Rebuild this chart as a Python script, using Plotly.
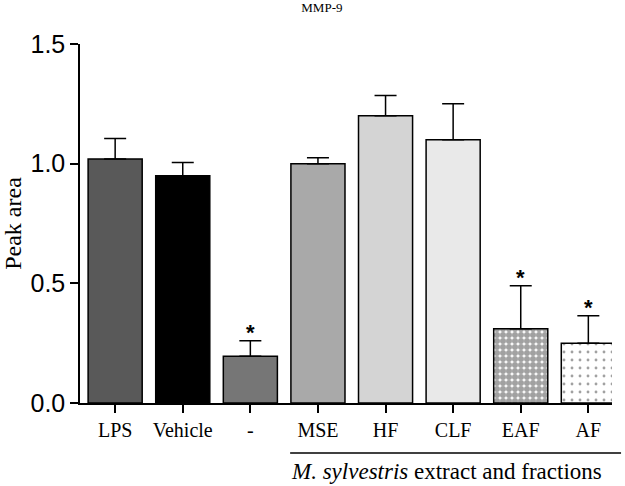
import plotly.graph_objects as go

categories = ["LPS", "Vehicle", "-", "MSE", "HF", "CLF", "EAF", "AF"]
values = [1.02, 0.95, 0.195, 1.0, 1.2, 1.1, 0.31, 0.25]
errors = [0.085, 0.055, 0.065, 0.025, 0.085, 0.15, 0.18, 0.115]
significant = [False, False, True, False, False, False, True, True]

colors = ["#595959", "#000000", "#767676", "#a9a9a9", "#d4d4d4", "#e9e9e9", "#ffffff", "#ffffff"]
pattern_shapes = ["", "", "", "", "", "", ".", "."]
pattern_sizes = [8, 8, 8, 8, 8, 8, 6, 8]
pattern_solid = [0.3, 0.3, 0.3, 0.3, 0.3, 0.3, 0.78, 0.1]

x = list(range(len(categories)))

fig = go.Figure()
fig.add_trace(go.Bar(
    x=x, y=values, width=0.8,
    marker=dict(color=colors, line=dict(color="black", width=1.5),
                pattern=dict(shape=pattern_shapes, size=pattern_sizes, solidity=pattern_solid,
                             fgcolor="black", fillmode="overlay")),
    error_y=dict(type="data", symmetric=False, array=errors, arrayminus=[0]*len(errors),
                 color="black", thickness=1.5, width=11),
    showlegend=False,
))

for i, s in enumerate(significant):
    if s:
        fig.add_annotation(x=i, y=values[i] + errors[i], text="<b>*</b>", showarrow=False,
                           yanchor="bottom", yshift=-6,
                           font=dict(family="Liberation Sans, Arial", size=22, color="black"))

fig.add_shape(type="line", xref="paper", yref="paper", x0=0.395, x1=1.017, y0=-0.139, y1=-0.139,
              line=dict(color="black", width=1.5))
fig.add_annotation(xref="paper", yref="paper", x=0.688, y=-0.192, xanchor="center", yanchor="middle",
                   showarrow=False,
                   text="<i>M. sylvestris</i> extract and fractions",
                   font=dict(family="Liberation Serif, Times New Roman", size=23, color="black"))

fig.update_layout(
    width=625, height=486,
    margin=dict(l=80, r=13, t=44, b=83),
    plot_bgcolor="white", paper_bgcolor="white",
    title=dict(text="MMP-9", x=0.515, xanchor="center", y=0.995, yanchor="top",
               font=dict(family="Liberation Serif, Times New Roman", size=13, color="black")),
    xaxis=dict(range=[-0.52, 7.35], tickmode="array", tickvals=x, ticktext=categories,
               showline=True, linecolor="black", linewidth=1.5, ticks="outside", ticklen=8,
               tickwidth=1.5, tickcolor="black", showgrid=False, zeroline=False, automargin=False,
               tickfont=dict(family="Liberation Serif, Times New Roman", size=20, color="black")),
    yaxis=dict(range=[0, 1.5], tickvals=[0, 0.5, 1.0, 1.5], ticktext=["0.0", "0.5", "1.0", "1.5"],
               showline=True, linecolor="black", linewidth=1.5, ticks="outside", ticklen=8,
               tickwidth=1.5, tickcolor="black", showgrid=False, zeroline=False, automargin=False,
               tickfont=dict(family="Liberation Sans, Arial", size=25, color="black"),
               title=dict(text="Peak area", standoff=6,
                          font=dict(family="Liberation Serif, Times New Roman", size=24, color="black"))),
)

fig.write_html("out.html", config={"displayModeBar": False},
               post_script="document.body.style.margin='0';")
